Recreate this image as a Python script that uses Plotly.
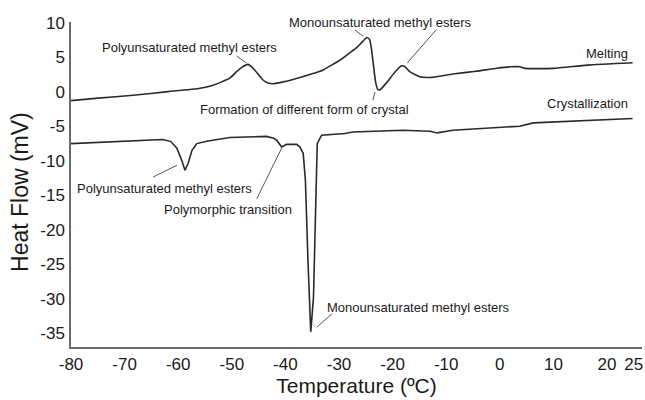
import plotly.graph_objects as go

# Melting curve (Temperature °C, Heat flow mW)
melting_temp = [-80.0, -74.96, -68.41, -61.87, -55.92, -53.5, -51.79, -50.38, -49.17, -48.06, -46.96, -46.25,
                -45.65, -44.13, -43.23, -42.32, -40.21, -37.79, -35.17, -32.95, -31.14, -29.83, -28.12, -26.6,
                -25.6, -24.79, -24.29, -23.99, -23.68, -23.18, -22.78, -22.37, -21.06, -19.55, -18.34, -17.74,
                -16.73, -14.92, -13.0, -8.77, -4.44, -0.51, 2.11, 3.72, 4.73, 9.97, 16.31, 24.78]
melting_flow = [-1.25, -0.9, -0.47, 0.05, 0.55, 0.99, 1.5, 2.0, 2.9, 3.6, 4.0, 3.6,
                3.1, 1.7, 1.3, 1.2, 1.5, 2.0, 2.6, 3.2, 4.0, 4.6, 5.6, 6.5,
                7.3, 7.9, 7.6, 6.5, 4.6, 1.5, 0.4, 0.3, 1.4, 2.9, 3.8, 3.7,
                2.9, 2.2, 2.1, 2.6, 3.0, 3.45, 3.65, 3.65, 3.42, 3.42, 3.9, 4.23]

# Crystallization curve
cryst_temp = [-80.0, -71.94, -65.9, -62.87, -61.36, -60.25, -59.35, -58.74, -58.14, -57.43, -56.53, -54.71,
              -50.38, -45.75, -43.53, -42.22, -41.62, -40.71, -39.8, -37.89, -37.28, -36.68, -36.27, -35.77,
              -35.27, -34.76, -34.36, -34.06, -33.25, -28.92, -27.41, -18.04, -13.0, -11.69, -8.77, 3.72,
              6.24, 16.31, 24.78]
cryst_flow = [-7.5, -7.2, -6.95, -6.9, -7.2, -8.17, -9.9, -11.37, -10.35, -8.46, -7.49, -7.15,
              -6.6, -6.45, -6.45, -6.7, -7.0, -7.98, -7.6, -7.6, -8.0, -8.9, -12.8, -24.9,
              -34.8, -29.8, -15.25, -7.49, -6.28, -6.03, -5.8, -5.55, -5.7, -5.94, -5.55, -4.97,
              -4.49, -4.1, -3.85]

x_ticks = [-80, -70, -60, -50, -40, -30, -20, -10, 0, 10, 20, 25]
y_ticks = [10, 5, 0, -5, -10, -15, -20, -25, -30, -35]

# Annotations: text, x, y
labels = [
    ("Polyunsaturated methyl esters", -57.8, 6.45),
    ("Monounsaturated methyl esters", -22.17, 10.15),
    ("Formation of different form of crystal", -36.53, -2.5),
    ("Melting", 20.0, 5.64),
    ("Crystallization", 16.45, -1.63),
    ("Polyunsaturated methyl esters", -62.47, -13.98),
    ("Polymorphic transition", -50.68, -17.03),
    ("Monounsaturated methyl esters", -15.08, -31.28),
]
# Leader lines: x0, y0, x1, y1
leaders = [
    (-49.07, 5.2, -47.26, 4.2),
    (-27.01, 8.98, -25.5, 8.1),
    (-11.8, 9.08, -17.24, 4.23),
    (-23.28, 0.01, -23.68, -1.2),
    (-64.69, -12.34, -60.25, -10.64),
    (-45.34, -15.5, -40.61, -8.0),
    (-34.16, -34.14, -31.34, -32.2),
]

FONT = "Liberation Sans, Arial, sans-serif"
CURVE = "#2a2a2a"
TXT = "#1a1a1a"

fig = go.Figure()
fig.add_trace(go.Scatter(x=melting_temp, y=melting_flow, mode="lines",
                         line=dict(color=CURVE, width=1.6, shape="spline", smoothing=0.5),
                         showlegend=False, hoverinfo="skip"))
fig.add_trace(go.Scatter(x=cryst_temp, y=cryst_flow, mode="lines",
                         line=dict(color=CURVE, width=1.6, shape="linear"),
                         showlegend=False, hoverinfo="skip"))

for txt, x, y in labels:
    fig.add_annotation(x=x, y=y, text=txt, showarrow=False,
                       font=dict(family=FONT, size=13, color=TXT),
                       xanchor="center", yanchor="middle")

for x0, y0, x1, y1 in leaders:
    fig.add_shape(type="line", x0=x0, y0=y0, x1=x1, y1=y1,
                  line=dict(color="#555555", width=1))

# y-axis title as a rotated annotation
fig.add_annotation(xref="paper", yref="paper", x=-0.0893, y=0.477, text="Heat Flow (mV)",
                   textangle=-90, showarrow=False, xanchor="center", yanchor="middle",
                   font=dict(family=FONT, size=23, color=TXT))

fig.update_xaxes(range=[-80, 26.53], tickvals=x_ticks, ticktext=[str(v) for v in x_ticks],
                 showgrid=False, zeroline=False, showline=True, linecolor="#6a6a6a", linewidth=1.5,
                 ticks="", ticklabelstandoff=1, ticklabeloverflow="allow",
                 tickfont=dict(family=FONT, size=17, color=TXT),
                 title=dict(text="Temperature (ºC)", font=dict(family=FONT, size=21, color=TXT),
                            standoff=4))
fig.update_yaxes(range=[-37.0, 10.15], tickvals=y_ticks, ticktext=[str(v) for v in y_ticks],
                 showgrid=False, zeroline=False, showline=True, linecolor="#6a6a6a", linewidth=1.5,
                 ticks="", ticklabelstandoff=1,
                 tickfont=dict(family=FONT, size=17, color=TXT))

fig.update_layout(width=645, height=400, margin=dict(l=71, r=3, t=22, b=53),
                  plot_bgcolor="white", paper_bgcolor="white")

fig.write_html("out.html")
